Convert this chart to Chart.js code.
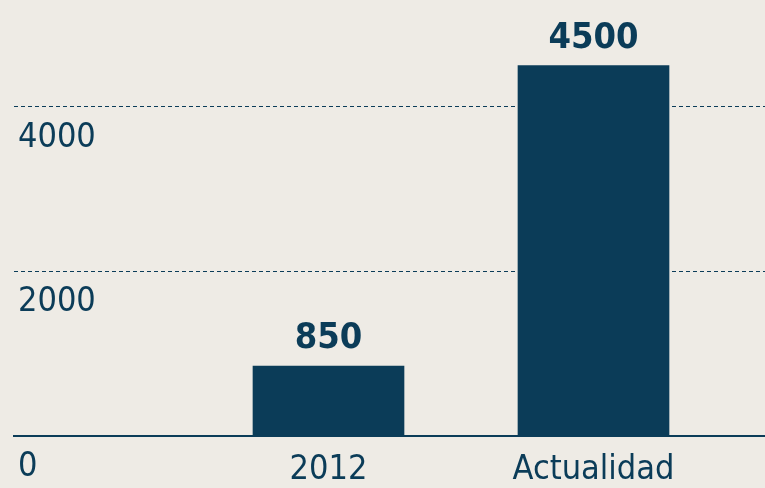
<!DOCTYPE html>
<html>
<head>
<meta charset="utf-8">
<script src="https://cdn.jsdelivr.net/npm/chart.js@4/dist/chart.umd.min.js"></script>
<style>
  html, body { margin: 0; padding: 0; background: #eeebe5; }
  canvas { display: block; }
</style>
</head>
<body>
<canvas id="chart"></canvas>
<script>
// data
const categories = ["2012", "Actualidad"];
const values = [850, 4500];
const yTicks = [0, 2000, 4000];

const navy = "#0b3c58";
const fontFam = "'DejaVu Sans Condensed', 'Liberation Sans Narrow', sans-serif";

const canvas = document.querySelector("#chart");
canvas.width = 765;
canvas.height = 488;
const ctx = canvas.getContext("2d");

// etiquetas encima de las barras
const valueLabels = {
  id: "valueLabels",
  afterDatasetsDraw(chart) {
    const c = chart.ctx;
    const meta = chart.getDatasetMeta(0);
    c.save();
    c.fillStyle = navy;
    c.font = "bold 36px " + fontFam;
    c.textAlign = "center";
    c.textBaseline = "middle";
    meta.data.forEach((bar, i) => {
      c.fillText(String(values[i]), bar.x, bar.y - 27);
    });
    c.restore();
  },
};

new Chart(ctx, {
  type: "bar",
  data: {
    datasets: [
      {
        data: values.map((v, i) => ({ x: i + 1, y: v })),
        backgroundColor: navy,
        borderWidth: 0,
        barThickness: 151,
      },
    ],
  },
  options: {
    responsive: false,
    animation: false,
    layout: { padding: { left: 6, right: 0, top: 19, bottom: 0 } },
    plugins: { legend: { display: false }, tooltip: { enabled: false } },
    scales: {
      x: {
        type: "linear",
        offset: false,
        min: -0.1868,
        max: 2.6472,
        afterBuildTicks: (scale) => {
          scale.ticks = categories.map((c, i) => ({ value: i + 1 }));
        },
        afterFit: (scale) => {
          scale.height = 52;
        },
        grid: { display: false, drawTicks: false },
        border: { display: true, color: navy, width: 2 },
        ticks: {
          color: navy,
          padding: 17,
          maxRotation: 0,
          font: { family: fontFam, size: 34, lineHeight: 1 },
          callback: (value) => categories[value - 1] || "",
        },
      },
      y: {
        min: 0,
        max: 5000,
        afterBuildTicks: (scale) => {
          scale.ticks = yTicks.map((v) => ({ value: v }));
        },
        grid: {
          drawTicks: false,
          color: (c) => (c.tick && c.tick.value === 0 ? "rgba(0,0,0,0)" : navy),
          lineWidth: 1,
        },
        border: { display: false, dash: [4, 3] },
        ticks: {
          mirror: true,
          padding: 4,
          labelOffset: 31,
          color: navy,
          font: { family: fontFam, size: 34 },
          callback: (value) => String(value),
        },
      },
    },
  },
  plugins: [valueLabels],
});
</script>
</body>
</html>
